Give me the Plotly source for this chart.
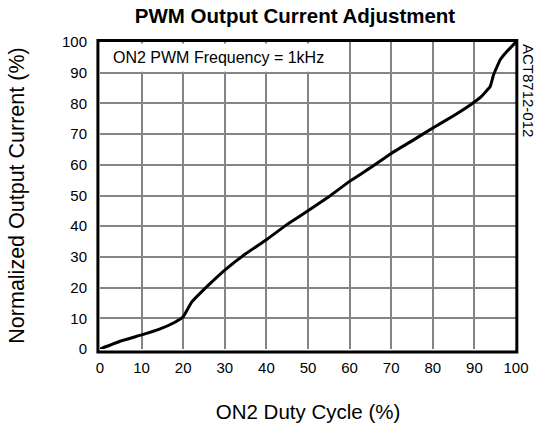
import plotly.graph_objects as go

# Data
duty_cycle = [0, 5, 10, 14, 18, 20, 22, 26, 30, 35, 40, 45, 50, 55, 60, 65, 70, 75, 80, 85, 89, 91.7, 93.8, 94.6, 96.2, 97.8, 100]
output_current = [0, 2.6, 4.6, 6.3, 8.7, 10.5, 15.2, 20.7, 25.7, 31.0, 35.6, 40.6, 45.0, 49.6, 54.6, 59.0, 63.7, 67.8, 72.0, 76.0, 79.5, 82.3, 85.5, 89.3, 94.2, 96.9, 100]
x_ticks = [0, 10, 20, 30, 40, 50, 60, 70, 80, 90, 100]
y_ticks = [0, 10, 20, 30, 40, 50, 60, 70, 80, 90, 100]

FONT = "Liberation Sans, Arial, sans-serif"
W, H = 544, 427
L, R, T, B = 100, 28, 42, 78
PW = W - L - R
PH = H - T - B

fig = go.Figure()
fig.add_trace(go.Scatter(
    x=duty_cycle, y=output_current, mode="lines",
    line=dict(color="black", width=3, shape="spline", smoothing=0.3),
    hoverinfo="skip", showlegend=False,
))

grid = dict(showgrid=True, gridcolor="#858585", gridwidth=2, zeroline=False,
            showline=False, ticks="", automargin=False,
            tickfont=dict(family=FONT, size=15, color="black"))

fig.update_layout(
    width=W, height=H,
    margin=dict(l=L, r=R, t=T, b=B),
    paper_bgcolor="white", plot_bgcolor="white",
    font=dict(family=FONT, color="black"),
    xaxis=dict(range=[0, 100], tickvals=x_ticks, ticktext=[str(v) for v in x_ticks],
               ticklabelstandoff=8,
               title=dict(text="ON2 Duty Cycle (%)", font=dict(size=20.5), standoff=29), **grid),
    yaxis=dict(range=[0, 100], tickvals=y_ticks, ticktext=[str(v) for v in y_ticks],
               ticklabelstandoff=12,
               title=dict(text="Normalized Output Current (%)", font=dict(size=21.5), standoff=31), **grid),
    title=dict(text="<b>PWM Output Current Adjustment</b>", font=dict(size=20.5),
               x=295 / W, xanchor="center", y=1 - 16 / H, yanchor="middle"),
)

# white box behind the label
fig.add_shape(type="rect", xref="x", yref="y", x0=0.3, x1=57, y0=90.3, y1=99.5,
              fillcolor="white", line=dict(width=0), layer="above")
fig.add_annotation(text="ON2 PWM Frequency = 1kHz", xref="x", yref="y", x=2.6, y=95,
                   xanchor="left", yanchor="middle", showarrow=False,
                   font=dict(family=FONT, size=16, color="black"))
# frame
fig.add_shape(type="rect", xref="paper", yref="paper", x0=-0.005, x1=1.002, y0=-0.01, y1=1.005,
              line=dict(color="black", width=3), fillcolor="rgba(0,0,0,0)", layer="above")
# side label
fig.add_annotation(text="ACT8712-012", xref="paper", yref="paper",
                   x=(528 - L) / PW, y=1 - (90 - T) / PH,
                   xanchor="center", yanchor="middle", showarrow=False, textangle=90,
                   font=dict(family=FONT, size=15, color="black"))

fig.write_html("out.html", config={"displayModeBar": False},
               post_script="document.body.style.margin='0';")
